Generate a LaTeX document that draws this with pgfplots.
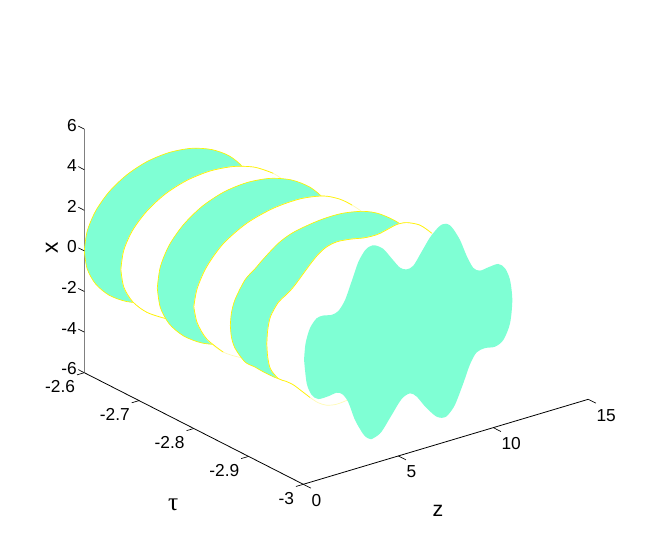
\documentclass[border=0pt]{standalone}
\usepackage{fontspec}
\setmainfont{Liberation Sans}
\newfontfamily\symfont{Liberation Serif}
\usepackage{pgfplots}
\usepackage{pgfplotstable}
\pgfplotsset{compat=1.18}
\usetikzlibrary{calc}
\definecolor{aqua}{RGB}{127,255,212}

% cross sections of the tube, one per tau: columns z and x
\pgfplotstableread{
z x
0 0
.152 .93
.599 1.80
1.31 2.55
2.235 3.12
3.31 3.48
4.47 3.60
5.63 3.48
6.705 3.12
7.63 2.55
8.34 1.80
8.79 .93
8.94 0
8.79 -.93
8.34 -1.80
7.63 -2.55
6.705 -3.12
5.63 -3.48
4.47 -3.60
3.31 -3.48
2.235 -3.12
1.31 -2.55
.599 -1.80
.152 -.93
0 0
}\sliceA
\pgfplotstableread{
z x
0 0
.16 .92
.63 1.77
1.38 2.50
2.35 3.07
3.48 3.42
4.7 3.54
5.92 3.42
7.05 3.07
8.02 2.50
8.77 1.77
9.24 .92
9.4 0
9.24 -.92
8.77 -1.77
8.02 -2.50
7.05 -3.07
5.92 -3.42
4.7 -3.54
3.48 -3.42
2.35 -3.07
1.38 -2.50
.63 -1.77
.16 -.92
0 0
}\sliceB
\pgfplotstableread{
z x
0 0
.16 1.00
.63 1.94
1.38 2.74
2.35 3.36
3.48 3.75
4.7 3.88
5.92 3.75
7.05 3.36
8.02 2.74
8.77 1.94
9.24 1.00
9.4 0
9.24 -1.00
8.77 -1.94
8.02 -2.74
7.05 -3.36
5.92 -3.75
4.7 -3.88
3.48 -3.75
2.35 -3.36
1.38 -2.74
.63 -1.94
.16 -1.00
0 0
}\sliceC
\pgfplotstableread{
z x
0 0
.18 .85
.68 1.78
1.55 2.67
2.78 3.33
4.18 3.68
5.59 3.75
6.82 3.55
7.69 3.15
8.33 2.68
9.0 2.05
9.6 1.2
9.85 0
9.6 -1.2
9.0 -2.05
8.33 -2.68
7.69 -3.15
6.82 -3.55
5.59 -3.75
4.18 -3.68
2.78 -3.33
1.55 -2.67
.68 -1.78
.18 -.85
0 0
}\sliceD
\pgfplotstableread{
z x
0 0
.06 .6
.25 1.2
.77 2.02
1.3 2.42
1.74 2.78
2.5 3.32
3.2 3.62
4.0 3.78
4.9 3.88
5.9 3.87
7.0 3.66
7.88 3.28
8.93 2.5
9.6 1.5
9.9 0
9.6 -1.5
8.93 -2.5
7.88 -3.28
7.0 -3.66
5.9 -3.87
4.9 -3.88
4.0 -3.78
3.2 -3.62
2.5 -3.32
1.74 -2.78
1.3 -2.42
.77 -2.02
.25 -1.2
.06 -.6
0 0
}\sliceE
\pgfplotstableread{
z x
0 0
.05 .67
.2 1.3
.61 1.88
1.0 2.12
1.39 2.4
1.85 2.85
2.27 3.27
2.7 3.65
3.15 3.9
3.7 4.0
4.4 3.93
5.08 3.8
5.6 3.76
5.96 3.78
6.4 3.88
6.85 3.97
7.36 3.92
8.06 3.6
8.68 3.03
9.3 2.1
9.8 1.1
10 0
9.8 -1.1
9.3 -2.1
8.68 -3.03
8.06 -3.6
7.36 -3.92
6.85 -3.97
6.4 -3.88
5.96 -3.78
5.6 -3.76
5.08 -3.8
4.4 -3.93
3.7 -4.0
3.15 -3.9
2.7 -3.65
2.27 -3.27
1.85 -2.85
1.39 -2.4
1.0 -2.12
.61 -1.88
.2 -1.3
.05 -.67
0 0
}\sliceF
\pgfplotstableread{
z x
.04 .12
.12 .91
.35 1.59
.70 1.98
1.05 2.02
1.49 1.93
1.84 2.02
2.19 2.45
2.55 3.3
2.90 4.15
3.25 4.62
3.5 4.74
3.77 4.72
4.21 4.42
4.65 3.83
5.09 3.25
5.44 3.07
5.79 3.15
6.23 3.72
6.67 4.3
7.11 4.68
7.33 4.76
7.51 4.74
7.7 4.62
7.90 4.36
8.25 3.73
8.60 2.85
8.95 2.16
9.30 1.93
9.74 1.97
10.26 1.99
10.62 1.67
10.88 1.03
11.0 .01
10.88 -1.11
10.53 -1.83
10.09 -2.04
9.56 -1.96
9.12 -2.05
8.77 -2.55
8.42 -3.38
7.98 -4.32
7.63 -4.70
7.45 -4.78
7.28 -4.76
7.05 -4.65
6.84 -4.46
6.41 -3.96
5.97 -3.35
5.62 -3.09
5.18 -3.24
4.65 -3.89
4.12 -4.56
3.77 -4.74
3.6 -4.78
3.4 -4.68
3.16 -4.42
2.72 -3.59
2.37 -2.62
2.07 -2.15
1.76 -1.98
1.32 -2.03
.79 -2.02
.44 -1.72
.18 -1.08
.04 .12
}\sliceG

\begin{document}
\begin{tikzpicture}
\begin{axis}[
  x={(-410.6pt,209.25pt)}, y={(14.25pt,4.25pt)}, z={(0pt,15.225pt)},
  xmin=-3, xmax=-2.6, ymin=0, ymax=15, zmin=-6, zmax=6,
  clip=false,
  axis x line=bottom, axis y line=left, axis z line=left,
  xtick={-3,-2.9,-2.8,-2.7,-2.6}, xticklabels={-3,-2.9,-2.8,-2.7,-2.6},
  ytick={0,5,10,15}, yticklabels={0,5,10,15},
  ztick={-6,-4,-2,0,2,4,6}, zticklabels={-6,-4,-2,0,2,4,6},
  major tick length=0pt,
  x axis line style={-,black,line width=.6pt},
  y axis line style={-,black,line width=.6pt},
  z axis line style={-,gray,line width=1pt},
  tick label style={font=\fontsize{13}{15}\selectfont,inner sep=0pt},
  xticklabel style={anchor=east,xshift=-6.75pt,yshift=-10.5pt},
  yticklabel style={anchor=west,xshift=6pt,yshift=-12pt},
  zticklabel style={anchor=east,xshift=-5.5pt,yshift=3pt},
  xlabel={\symfont\fontsize{19}{21}\selectfont τ},
  ylabel={\fontsize{16}{18}\selectfont z},
  zlabel={\fontsize{17}{19}\selectfont x},
  xlabel style={at={(axis cs:-2.959,-5.67,-6)},anchor=center,inner sep=0pt},
  ylabel style={at={(axis cs:-3.151,2.73,-6)},anchor=center,inner sep=0pt,rotate=0},
  zlabel style={at={(axis cs:-2.541,0,-.68)},anchor=center,inner sep=0pt,rotate=0},
  every axis plot/.append style={line width=.5pt},
]
\addplot3[smooth,fill=aqua,draw=yellow] table[x expr=-2.6,y=z,z=x] {\sliceA};
\addplot3[smooth,fill=white,draw=yellow!30] table[x expr=-2.6667,y=z,z=x] {\sliceB};
\addplot3[smooth,draw=yellow,skip coords between index={10}{25}] table[x expr=-2.6667,y=z,z=x] {\sliceB};
\addplot3[smooth,draw=yellow,skip coords between index={0}{20}] table[x expr=-2.6667,y=z,z=x] {\sliceB};
\addplot3[smooth,fill=aqua,draw=yellow] table[x expr=-2.7333,y=z,z=x] {\sliceC};
\addplot3[smooth,fill=white,draw=yellow!30] table[x expr=-2.8,y=z,z=x] {\sliceD};
\addplot3[smooth,draw=yellow,skip coords between index={10}{25}] table[x expr=-2.8,y=z,z=x] {\sliceD};
\addplot3[smooth,draw=yellow,skip coords between index={0}{21}] table[x expr=-2.8,y=z,z=x] {\sliceD};
\addplot3[smooth,fill=aqua,draw=yellow] table[x expr=-2.8667,y=z,z=x] {\sliceE};
\addplot3[smooth,fill=white,draw=yellow!30] table[x expr=-2.9333,y=z,z=x] {\sliceF};
\addplot3[smooth,draw=yellow,skip coords between index={20}{45}] table[x expr=-2.9333,y=z,z=x] {\sliceF};
\addplot3[smooth,draw=yellow,skip coords between index={0}{37}] table[x expr=-2.9333,y=z,z=x] {\sliceF};
\addplot3[smooth,fill=aqua,draw=none] table[x expr=-3,y=z,z=x] {\sliceG};
% short ticks, each along the neighbouring axis
\pgfplotsinvokeforeach{-3,-2.9,-2.8,-2.7,-2.6}{
  \addplot3[black] coordinates {(#1,0,-6) (#1,-.385,-6)};
}
\pgfplotsinvokeforeach{0,5,10,15}{
  \addplot3[black] coordinates {(-3,#1,-6) (-3.014,#1,-6)};
}
\pgfplotsinvokeforeach{-6,-4,-2,0,2,4,6}{
  \addplot3[black] coordinates {(-2.6,0,#1) (-2.589,0,#1)};
}
\coordinate (c) at (axis cs:-3,0,-6);
\end{axis}
\useasboundingbox ($(c)+(-227.475pt,-45.525pt)$) rectangle +(490.5pt,408.75pt);
\end{tikzpicture}
\end{document}
